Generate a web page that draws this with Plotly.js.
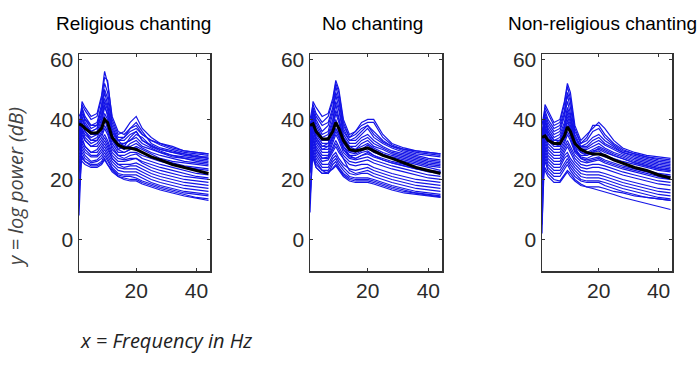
<!DOCTYPE html>
<html>
<head>
<meta charset="utf-8">
<script src="https://cdn.plot.ly/plotly-3.0.1.min.js"></script>
<style>html,body{margin:0;padding:0;background:#fff}#chart{width:700px;height:368px}</style>
</head>
<body>
<div id="chart"></div>
<script>
// Frequency grid (Hz)
var freqs = [1, 2, 3, 5, 7, 8.5, 9.5, 10.5, 12, 14, 16, 18, 20, 22, 25, 28, 32, 36, 40, 44];

var panelTitles = ["Religious chanting", "No chanting", "Non-religious chanting"];
var xTickVals = [20, 40];
var yTickVals = [0, 20, 40, 60];

// Religious chanting: individual spectra (dB)
var religiousSpectra = [
  [30, 46, 44, 41, 42, 48, 56, 52, 41, 36, 35, 37, 38, 35, 33, 32, 30.5, 29.5, 29, 28.5],
  [38, 45, 43, 40, 41, 47, 54, 53, 40, 35, 36, 39, 41, 37, 34, 32, 31, 29.5, 29, 28.5],
  [36, 44, 41, 38, 39, 45, 52, 49, 39, 34, 34, 36, 37, 35, 33, 31.5, 30, 29, 28.5, 28],
  [41, 43, 40, 37, 38, 44, 50, 47, 38, 33, 34, 37, 39, 36, 32, 30.5, 29.5, 28.5, 28, 27],
  [35, 44, 39, 36, 37, 42, 49, 45, 37, 33, 33, 35, 36, 33, 31.5, 30, 29, 28, 27.5, 27.5],
  [33, 42, 40, 38, 38, 43, 47, 44, 36, 32, 32, 33, 35, 34, 31, 30, 29, 28.5, 27.5, 27],
  [37, 41, 38, 36, 37, 41, 46, 43, 36, 33, 31, 34, 36, 33, 31, 29.5, 28, 27.5, 27, 26.5],
  [20, 41, 37, 35, 36, 40, 45, 41, 35, 31, 32, 33, 34, 32, 30.5, 29, 28, 27, 26, 25.5],
  [34, 40, 38, 35, 35, 39, 44, 42, 34, 31, 30, 32, 33, 31, 30, 29, 27.5, 27, 26.5, 26],
  [32, 39, 36, 34, 35, 38, 42, 40, 34, 30, 31, 31, 32, 30.5, 29, 28, 27, 26, 25.5, 25],
  [35, 38, 36, 33, 34, 37, 41, 38, 33, 30, 29, 30, 31, 30, 28.5, 27, 26, 25.5, 25, 24.5],
  [30, 37, 35, 33, 33, 36, 40, 37, 32, 29, 29, 30, 30.5, 29, 27.5, 26.5, 25.5, 24.5, 24, 23.5],
  [12, 37, 34, 32, 33, 35, 38, 36, 31, 28, 28, 29, 29, 28, 27, 26, 25, 24, 23.5, 23],
  [31, 36, 33, 31, 32, 34, 37, 35, 30, 28, 27, 28, 28.5, 27, 26, 25, 24, 23, 22, 21.5],
  [29, 35, 33, 31, 31, 33, 35, 33, 29, 27, 26.5, 27, 27, 26, 25, 24, 23, 22, 21, 20.5],
  [33, 34, 31, 29, 30, 32, 34, 32, 28, 26, 26, 26.5, 27, 25.5, 24, 23, 22, 21, 20.5, 20],
  [8, 33, 31, 29, 29, 31, 33, 31, 27, 25, 25, 25, 25.5, 24.5, 23, 22, 21, 20, 19.5, 19],
  [28, 32, 30, 28, 28, 30, 32, 30, 27, 25, 24, 24.5, 24.5, 23.5, 22, 21, 20, 19, 18.5, 18],
  [27, 31, 29, 27.5, 27.5, 29, 31, 29, 26, 24, 23.5, 23.5, 23.5, 22.5, 21, 20, 19, 18, 17.5, 17],
  [26, 30, 28, 26, 26.5, 28, 30, 28, 25, 23, 22.5, 22.5, 22.5, 21.5, 20, 19, 18, 17, 16.5, 16],
  [25, 29, 27, 25.5, 26, 27, 29, 27, 24, 22, 21.5, 21.5, 21.5, 20.5, 19, 18, 17, 16, 15.5, 15],
  [16, 28, 26, 25, 25, 26, 28, 26, 23.5, 21.5, 21, 21, 20.5, 19.5, 18.5, 17.5, 16.5, 15.5, 15, 14.5],
  [24, 27, 26, 24.5, 24.5, 25.5, 27, 25, 23, 21, 20.5, 20, 20, 19, 18, 17, 16, 15, 14, 13.5],
  [26, 26, 25, 24, 24, 25, 26.5, 25, 22.5, 21, 20, 19.5, 19.5, 18.5, 17.5, 16.5, 15.5, 14.5, 13.8, 13]
];
var religiousMean = [38.5, 38, 37, 35.5, 35.5, 37, 40, 39, 34, 31.5, 30.5, 30.5, 30, 29, 27.5, 26.5, 25, 24, 23, 22];

// No chanting
var noChantSpectra = [
  [35, 46, 44, 41, 42, 47, 53, 50, 40, 35, 36, 39, 40, 40, 35, 32, 30.5, 29.5, 29, 28.5],
  [40, 45, 42, 39, 41, 46, 52, 49, 39, 34, 36, 38, 39, 39, 34, 31.5, 30, 29.5, 29, 28.5],
  [33, 44, 41, 38, 39, 44, 51, 47, 38, 34, 35, 37, 38, 36, 33, 31, 30, 29, 28.5, 28],
  [38, 43, 40, 36, 38, 43, 49, 46, 37, 33, 34, 36, 38, 35, 32.5, 31, 29.5, 28.5, 28, 27.5],
  [30, 43, 39, 35, 36, 42, 48, 44, 36, 33, 33, 35, 37, 34, 32, 30.5, 29, 28, 27, 26.5],
  [36, 42, 38, 34, 35, 40, 46, 43, 35, 32, 32, 34, 35, 33, 31, 29.5, 28.5, 27.5, 26.5, 26],
  [12, 41, 37, 33, 34, 39, 45, 41, 34, 31, 31, 33, 34, 32, 30.5, 29, 28, 27, 26, 25.5],
  [34, 40, 36, 33, 33, 38, 43, 40, 34, 31, 30, 32, 33, 31, 30, 28.5, 27.5, 26.5, 25.5, 25],
  [32, 39, 35, 32, 32, 37, 42, 39, 33, 30, 30, 31, 32, 30.5, 29, 28, 27, 26, 25, 24.5],
  [31, 38, 34, 31, 32, 36, 40, 37, 32, 29.5, 29, 30, 31.5, 30, 28.5, 27.5, 26.5, 25.5, 24.5, 24],
  [30, 37, 33, 30, 31, 35, 39, 36, 31, 29, 28.5, 29.5, 30.5, 29, 28, 27, 26, 25, 24, 23],
  [29, 36, 33, 30, 30, 34, 37, 35, 30, 28, 28, 29, 29.5, 28, 27, 26, 25, 24, 23, 22.5],
  [9, 35, 32, 29, 29, 33, 36, 34, 30, 27.5, 27, 28, 28.5, 27.5, 26.5, 25.5, 24.5, 23.5, 22.5, 22],
  [28, 34, 31, 28, 28, 32, 35, 33, 29, 27, 26.5, 27, 27.5, 26.5, 25.5, 24.5, 23.5, 22.5, 21.5, 21],
  [27, 33, 30, 27, 27.5, 31, 33, 31, 28, 26, 25.5, 26, 26.5, 25.5, 24.5, 23.5, 22.5, 21.5, 20.5, 20],
  [26, 32, 29, 26, 26.5, 29, 31, 29, 27, 25, 24.5, 25, 25, 24, 23, 22, 21, 20, 19.5, 19],
  [25, 31, 28, 25, 25, 28, 29, 27, 25, 23.5, 23, 23.5, 24, 23, 22, 21, 20, 19, 18.5, 18],
  [13, 30, 27, 24, 24, 27, 28, 26, 24, 22, 21.5, 22, 22, 21, 20, 19, 18, 17, 16.5, 16],
  [24, 29, 26, 23, 23, 26, 27, 25, 23, 21, 20.5, 20.5, 20.5, 20, 19, 18, 17, 16, 15.5, 15],
  [23, 28, 25, 23, 22, 25, 26, 24, 22, 20.5, 20, 20, 20, 19.5, 18.5, 17.5, 16.5, 15.5, 15, 14.5],
  [22, 28, 24, 22, 22, 24, 25, 23.5, 21.5, 20, 19.5, 19.5, 19.5, 19, 18, 17, 16, 15.5, 14.8, 14.2],
  [25, 27, 24, 22, 22.5, 23.5, 24.5, 23, 21, 19.5, 19, 19, 19, 18.5, 17.5, 16.5, 15.5, 15, 14.5, 14],
  [30, 34, 30, 27, 27, 30, 32, 30, 27, 23, 22, 22.5, 23, 22, 21, 20, 19, 18, 17.5, 17],
  [35, 38, 34, 31, 31, 34, 37, 35, 31, 28, 27, 28, 29, 28, 26.5, 25.5, 24.5, 23.5, 23, 22.5]
];
var noChantMean = [38, 38.5, 36, 33.5, 33.5, 36, 39, 37, 33, 30, 29.5, 30, 30.5, 29.5, 28, 27, 25.5, 24, 23, 22];

// Non-religious chanting
var nonReligiousSpectra = [
  [30, 45, 43, 39, 40, 46, 52, 49, 38, 33, 35, 37, 39, 37, 33, 30.5, 29, 28, 27.5, 27],
  [38, 44, 42, 38, 39, 45, 51, 47, 37, 32, 34, 38, 38, 35, 32, 30, 28.5, 27.5, 27, 26.5],
  [35, 43, 40, 37, 38, 43, 49, 46, 36, 32, 33, 36, 37, 34, 31.5, 29.5, 28.5, 27.5, 26.5, 26],
  [33, 42, 39, 36, 37, 42, 48, 44, 35, 31, 32, 34, 35, 33, 31, 29, 28, 27, 26, 25.5],
  [2, 41, 38, 35, 36, 41, 46, 42, 34, 31, 31, 33, 34, 32, 30.5, 29, 27.5, 26.5, 25.5, 25],
  [34, 40, 37, 34, 35, 39, 44, 41, 34, 30.5, 30.5, 32, 33, 31.5, 30, 28.5, 27, 26, 25, 24.5],
  [32, 39, 36, 33, 34, 38, 42, 39, 33, 30, 30, 31, 32, 30.5, 29, 28, 26.5, 25.5, 24.5, 24],
  [30, 38, 35, 32, 33, 37, 41, 38, 32, 29.5, 29, 30, 31, 30, 28.5, 27.5, 26, 25, 24, 23.5],
  [12, 37, 34, 32, 32, 36, 39, 37, 31, 29, 28.5, 29.5, 30, 29, 28, 27, 25.5, 24.5, 23.5, 23],
  [29, 36, 33, 31, 31, 34, 38, 35, 30, 28, 28, 29, 29.5, 28, 27, 26, 25, 24, 23, 22.5],
  [28, 35, 32, 30, 30, 33, 36, 34, 29.5, 27.5, 27, 28, 28.5, 27.5, 26.5, 25.5, 24, 23, 22, 21.5],
  [27, 34, 31, 29, 29, 32, 35, 33, 29, 27, 26.5, 27, 27.5, 26.5, 25.5, 24.5, 23.5, 22.5, 21.5, 21],
  [26, 33, 30, 28, 28, 31, 33, 31, 28, 26, 25.5, 26, 26.5, 25.5, 24.5, 23.5, 22.5, 21.5, 20.5, 20],
  [25, 32, 29, 27, 27, 30, 32, 30, 27, 25, 24.5, 25, 25, 24.5, 23.5, 22.5, 21.5, 20.5, 19.5, 19],
  [5, 31, 28, 26, 26, 29, 31, 29, 26, 24, 23.5, 24, 24, 23.5, 22.5, 21.5, 20.5, 19.5, 18.5, 18],
  [24, 30, 27, 25, 25, 28, 29, 27, 25, 23, 22.5, 22.5, 22.5, 22, 21, 20, 19, 18, 17, 16.5],
  [23, 29, 26, 24, 24, 27, 28, 26, 24, 22, 21.5, 21.5, 21.5, 21, 20, 19, 18, 17, 16, 15.5],
  [22, 28, 25, 23, 23, 25.5, 27, 25, 23, 21, 20.5, 20.5, 20.5, 20, 19, 18, 17, 16, 15, 14.5],
  [21, 27, 24, 22, 22, 24.5, 26, 24, 22, 20, 19.5, 19.5, 19.5, 19, 18, 17, 16, 15, 14, 13.5],
  [20, 26, 23, 21, 21, 23.5, 25, 23, 21, 19.5, 19, 19, 19, 18, 17, 16, 15, 14, 13.5, 13],
  [18, 24, 22, 20, 19.5, 21.5, 23, 22, 20, 18.5, 17.5, 17, 16.5, 16, 15, 14, 13, 12, 11, 10],
  [28, 23, 21, 19, 19, 21, 22.5, 21, 19.5, 18, 17.5, 17.5, 17.5, 17, 16, 15.5, 14.5, 14, 13.5, 13],
  [31, 37, 35, 32, 31, 35, 40, 37, 31, 27, 26, 26.5, 27, 26, 25, 24, 23, 22, 21, 20],
  [36, 40, 36, 33, 33, 37, 43, 40, 33, 29, 28, 29, 30.5, 29.5, 28, 27, 25.5, 24.5, 23.5, 23]
];
var nonReligiousMean = [34, 34.5, 33, 32, 32, 34.5, 37.5, 36, 32, 30, 29, 28.5, 28.5, 28, 26.5, 25.5, 24, 23, 21.5, 20.5];

var panels = [
  {spectra: religiousSpectra, mean: religiousMean, suffix: ""},
  {spectra: noChantSpectra, mean: noChantMean, suffix: "2"},
  {spectra: nonReligiousSpectra, mean: nonReligiousMean, suffix: "3"}
];

var W = 700, H = 368;
var xDomainsPx = [[79, 210], [310, 442], [542, 672]];
var yDomainPx = [54, 271];

var traces = [];
panels.forEach(function (p) {
  p.spectra.forEach(function (s) {
    traces.push({
      x: freqs, y: s, type: "scatter", mode: "lines",
      line: {color: "rgb(20,20,230)", width: 1.2},
      xaxis: "x" + p.suffix, yaxis: "y" + p.suffix,
      hoverinfo: "skip", showlegend: false
    });
  });
  traces.push({
    x: freqs, y: p.mean, type: "scatter", mode: "lines",
    line: {color: "#000000", width: 3},
    xaxis: "x" + p.suffix, yaxis: "y" + p.suffix,
    hoverinfo: "skip", showlegend: false
  });
});

var tickFont = {family: "Liberation Sans, Arial, sans-serif", size: 21, color: "#2a2a2a"};

function xAxis(i) {
  return {
    domain: [xDomainsPx[i][0] / W, xDomainsPx[i][1] / W],
    range: [1, 44.5],
    tickvals: xTickVals,
    ticktext: xTickVals.map(String),
    ticks: "inside", ticklen: 3, tickwidth: 1, tickcolor: "#333",
    showline: true, linecolor: "#333", linewidth: 1.5, mirror: "ticks",
    showgrid: false, zeroline: false,
    tickfont: tickFont,
    anchor: "y" + (i === 0 ? "" : String(i + 1))
  };
}
function yAxis(i) {
  return {
    domain: [1 - yDomainPx[1] / H, 1 - yDomainPx[0] / H],
    range: [-10.5, 61.8],
    tickvals: yTickVals,
    ticktext: yTickVals.map(String),
    ticks: "inside", ticklen: 3, tickwidth: 1, tickcolor: "#333",
    showline: true, linecolor: "#333", linewidth: 1.5, mirror: "ticks",
    showgrid: false, zeroline: false,
    tickfont: tickFont,
    anchor: "x" + (i === 0 ? "" : String(i + 1))
  };
}

var titleCentersPx = [133, 373, 602];
var annotations = panelTitles.map(function (t, i) {
  return {
    text: t, xref: "paper", yref: "paper",
    x: titleCentersPx[i] / W, y: 1 - 24 / H,
    xanchor: "center", yanchor: "middle", showarrow: false,
    font: {family: "Liberation Sans, Arial, sans-serif", size: 19, color: "#000"}
  };
});
annotations.push({
  text: "<i>y = log power (dB)</i>", xref: "paper", yref: "paper",
  x: 15 / W, y: 1 - 187 / H, xanchor: "center", yanchor: "middle",
  textangle: -90, showarrow: false,
  font: {family: "Open Sans, sans-serif", size: 20, color: "#444"}
});
annotations.push({
  text: "<i>x = Frequency in Hz</i>", xref: "paper", yref: "paper",
  x: 166 / W, y: 1 - 340 / H, xanchor: "center", yanchor: "middle",
  showarrow: false,
  font: {family: "Open Sans, sans-serif", size: 20, color: "#222"}
});

var layout = {
  width: W, height: H,
  margin: {l: 0, r: 0, t: 0, b: 0},
  paper_bgcolor: "#fff", plot_bgcolor: "#fff",
  showlegend: false,
  xaxis: xAxis(0), yaxis: yAxis(0),
  xaxis2: xAxis(1), yaxis2: yAxis(1),
  xaxis3: xAxis(2), yaxis3: yAxis(2),
  annotations: annotations
};

Plotly.newPlot("chart", traces, layout, {staticPlot: true, displayModeBar: false});
</script>
</body>
</html>
